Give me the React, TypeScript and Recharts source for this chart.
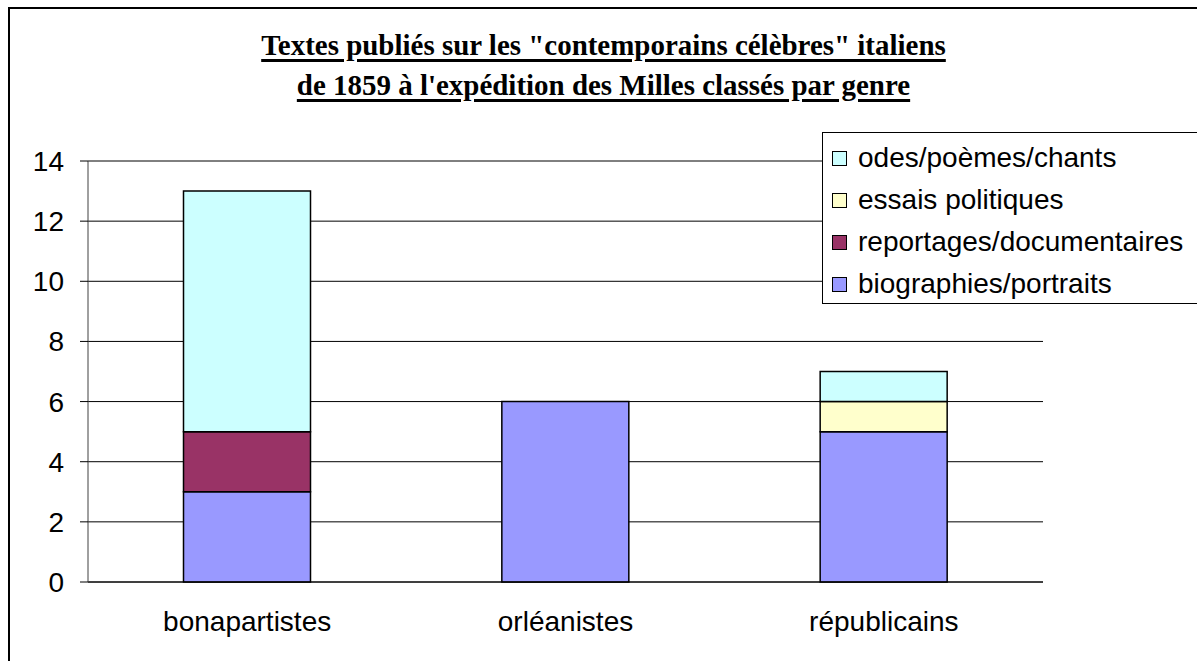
import { Bar, BarChart, CartesianGrid, XAxis, YAxis } from "recharts";

const categories = ["bonapartistes", "orléanistes", "républicains"];
const biographies = [3, 6, 5];
const reportages = [2, 0, 0];
const essais = [0, 0, 1];
const odes = [8, 0, 1];
const yTicks = [0, 2, 4, 6, 8, 10, 12, 14];
const edgeTicks = [0, 1, 2, 3];

const series = [
  { key: "bio", name: "biographies/portraits", values: biographies, color: "#9999FF" },
  { key: "rep", name: "reportages/documentaires", values: reportages, color: "#993366" },
  { key: "ess", name: "essais politiques", values: essais, color: "#FFFFCC" },
  { key: "ode", name: "odes/poèmes/chants", values: odes, color: "#CCFFFF" },
];

const data = categories.map((c, i) => {
  const row: Record<string, string | number> = { cat: c };
  for (const s of series) row[s.key] = s.values[i];
  return row;
});

const font = "'Liberation Sans', Arial, sans-serif";

export default function App() {
  return (
    <div style={{ position: "absolute", left: 0, top: 0, width: 1197, height: 661, overflow: "hidden", background: "#fff" }}>
      <div
        style={{
          position: "absolute",
          left: 8,
          top: 7,
          width: 1220,
          height: 680,
          border: "2px solid #000",
        }}
      />
      <div
        style={{
          position: "absolute",
          left: 0,
          top: 25,
          width: 1207,
          textAlign: "center",
          fontFamily: "'Liberation Serif', 'Times New Roman', serif",
          fontWeight: "bold",
          fontSize: 30,
          lineHeight: "40px",
          textDecoration: "underline",
          textDecorationThickness: 3,
          textUnderlineOffset: 4,
          transform: "scaleX(0.965)",
        }}
      >
        <div>Textes publiés sur les "contemporains célèbres" italiens</div>
        <div>de 1859 à l'expédition des Milles classés par genre</div>
      </div>
      <BarChart
        width={1197}
        height={661}
        data={data}
        margin={{ top: 161, right: 154, left: 28, bottom: 21 }}
        barCategoryGap="30%"
        style={{ position: "absolute", left: 0, top: 0 }}
      >
        <CartesianGrid vertical={false} stroke="#000" xAxisId="cat" />
        {/* boundary ticks between categories, Excel style */}
        <XAxis
          xAxisId={0}
          type="number"
          domain={[0, 3]}
          ticks={edgeTicks}
          tick={false}
          tickSize={8}
          height={8}
          axisLine={{ stroke: "#000" }}
          tickLine={{ stroke: "#000" }}
        />
        <XAxis
          xAxisId="cat"
          dataKey="cat"
          height={50}
          axisLine={false}
          tickLine={false}
          tickMargin={15}
          tick={{ fill: "#000", fontSize: 28, fontFamily: font }}
        />
        <YAxis
          domain={[0, 14]}
          ticks={yTicks}
          width={60}
          tickSize={8}
          tickMargin={16}
          interval={0}
          axisLine={{ stroke: "#404040" }}
          tickLine={{ stroke: "#000" }}
          tick={{ fill: "#000", fontSize: 28, fontFamily: font }}
        />
        <YAxis
          yAxisId="r"
          orientation="right"
          domain={[0, 14]}
          width={0}
          tick={false}
          tickLine={false}
          axisLine={{ stroke: "#808080" }}
        />
        {series.map((s) => (
          <Bar
            key={s.key}
            xAxisId="cat"
            dataKey={s.key}
            name={s.name}
            stackId="a"
            fill={s.color}
            stroke="#000"
            strokeWidth={1.5}
            isAnimationActive={false}
          />
        ))}
      </BarChart>
      <div
        style={{
          position: "absolute",
          left: 822,
          top: 132,
          width: 380,
          height: 172,
          border: "1px solid #000",
          background: "#fff",
          fontFamily: font,
          fontSize: 28,
          paddingTop: 4,
          boxSizing: "border-box",
        }}
      >
        {[...series].reverse().map((s) => (
          <div key={s.key} style={{ display: "flex", alignItems: "center", height: 42 }}>
            <span
              style={{
                display: "inline-block",
                width: 13,
                height: 13,
                border: "1px solid #000",
                background: s.color,
                marginLeft: 9,
                marginRight: 11,
              }}
            />
            <span>{s.name}</span>
          </div>
        ))}
      </div>
    </div>
  );
}
